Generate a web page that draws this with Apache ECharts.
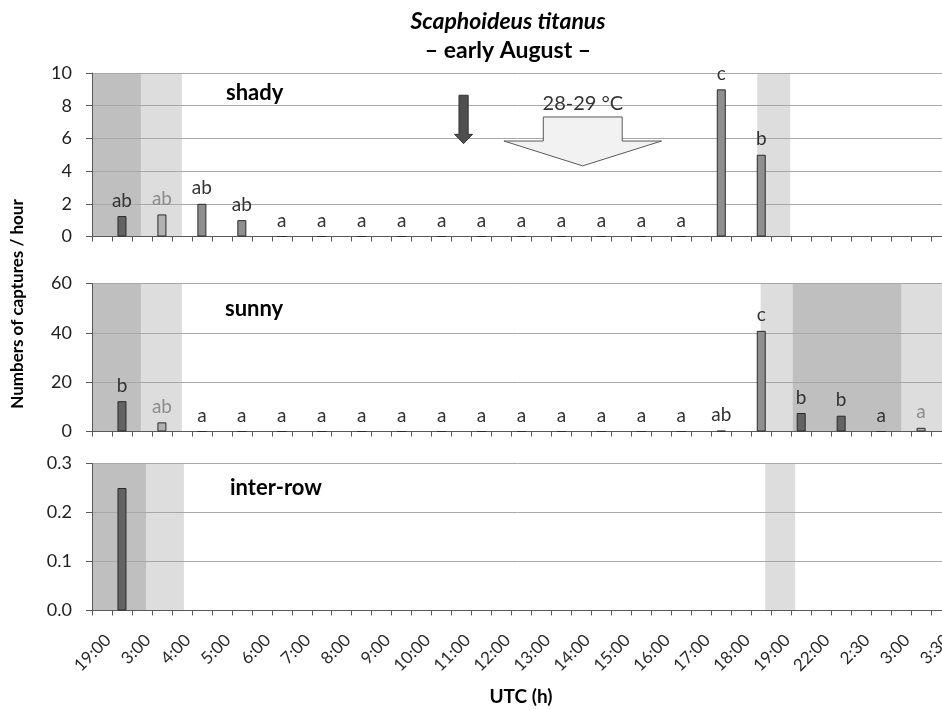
<!DOCTYPE html>
<html>
<head>
<meta charset="utf-8">
<script src="https://cdn.jsdelivr.net/npm/echarts@6/dist/echarts.min.js"></script>
<style>html,body{margin:0;padding:0;background:#fff}#c{width:942px;height:710px}</style>
</head>
<body>
<div id="c"></div>
<script>
// ---- data ----
const timeLabels = ['19:00','3:00','4:00','5:00','6:00','7:00','8:00','9:00','10:00','11:00','12:00',
  '13:00','14:00','15:00','16:00','17:00','18:00','19:00','22:00','2:30','3:00','3:30'];

// one value per interval (the interval following each time label)
const shadyValues  = [1.25, 1.35, 2.0, 1.0, 0, 0, 0, 0, 0, 0, 0, 0, 0, 0, 0, 9.0, 5.0, null, null, null, null, null];
const shadyLetters = ['ab','ab','ab','ab','a','a','a','a','a','a','a','a','a','a','a','c','b','','','','',''];
const shadyTones   = ['d','l','m','m','m','m','m','m','m','m','m','m','m','m','m','m','m','m','m','m','m','m'];

const sunnyValues  = [12.3, 3.7, 0, 0, 0, 0, 0, 0, 0, 0, 0, 0, 0, 0, 0, 0.3, 40.8, 7.5, 6.4, 0, 1.5, null];
const sunnyLetters = ['b','ab','a','a','a','a','a','a','a','a','a','a','a','a','a','ab','c','b','b','a','a',''];
const sunnyTones   = ['d','l','m','m','m','m','m','m','m','m','m','m','m','m','m','m','m','d','d','m','l','m'];

const interValues  = [0.25, null, null, null, null, null, null, null, null, null, null, null, null, null, null, null, null, null, null, null, null, null];
const interLetters = ['','','','','','','','','','','','','','','','','','','','','',''];
const interTones   = ['d','m','m','m','m','m','m','m','m','m','m','m','m','m','m','m','m','m','m','m','m','m'];

// night / twilight periods, in half-interval slot units (0..44)
const shadyBands = [[0, 2.45, 'night'], [2.45, 4.5, 'twilight'], [33.3, 34.95, 'twilight']];
const sunnyBands = [[0, 2.45, 'night'], [2.45, 4.5, 'twilight'], [33.47, 35.07, 'twilight'], [35.07, 40.53, 'night'], [40.53, 44, 'twilight']];
const interBands = [[0, 2.73, 'night'], [2.73, 4.6, 'twilight'], [33.7, 35.2, 'twilight']];

// ---- styles ----
const FONT = 'Lato, "Open Sans", sans-serif';
const toneFill = {d: '#636363', m: '#8f8f8f', l: '#b1b1b1'};
const toneLabel = {d: '#333333', m: '#333333', l: '#8c8c8c'};
const bandFill = {night: '#bfbfbf', twilight: '#dddddd'};
const SLOTS = timeLabels.length * 2;
const slots = timeLabels.flatMap(t => [t, '']);

function barData(values, tones) {
  const out = [];
  values.forEach((v, k) => {
    out.push('-');
    if (v === null) { out.push('-'); return; }
    out.push({value: v, itemStyle: {color: toneFill[tones[k]]}, label: {color: toneLabel[tones[k]]}});
  });
  return out;
}

function catAxis(i, showLabels) {
  return {
    type: 'category', gridIndex: i, data: slots, boundaryGap: true,
    axisLine: {show: true, onZero: false, lineStyle: {color: '#595959', width: 1}},
    axisTick: {show: true, interval: 0, length: 5, lineStyle: {color: '#595959'}},
    axisLabel: {
      show: showLabels, interval: 0, rotate: 45, margin: 21,
      fontSize: 17, fontFamily: FONT, color: '#2a2a2a',
      align: 'right', verticalAlign: 'top',
      formatter: (v, idx) => (idx % 2 === 0 ? timeLabels[idx / 2] : '')
    },
    splitLine: {show: false}
  };
}
function slotAxis(i) {
  return {type: 'value', gridIndex: i, min: 0, max: SLOTS, show: false};
}
function valAxis(i, max, interval, digits) {
  return {
    type: 'value', gridIndex: i, min: 0, max: max, interval: interval,
    axisLine: {show: true, lineStyle: {color: '#595959'}},
    axisTick: {show: true, length: 6, lineStyle: {color: '#595959'}},
    axisLabel: {margin: 20, fontSize: 18, fontFamily: FONT, color: '#222',
      formatter: v => v.toFixed(digits)},
    splitLine: {show: true, lineStyle: {color: '#a8a8a8', width: 1}}
  };
}
function barSeries(i, values, letters, tones) {
  return {
    type: 'bar', xAxisIndex: i, yAxisIndex: i, barWidth: 9, z: 3,
    data: barData(values, tones),
    itemStyle: {borderColor: '#2b2b2b', borderWidth: 1},
    label: {
      show: true, position: 'top', distance: 6,
      fontSize: 19, fontFamily: FONT,
      formatter: p => letters[(p.dataIndex - 1) / 2] || ''
    },
    emphasis: {disabled: true}
  };
}
function bandSeries(i, bands) {
  return {
    type: 'custom', xAxisIndex: 3 + i, yAxisIndex: i, z: -1, silent: true,
    encode: {x: [0, 1]},
    data: bands.map(b => [b[0], b[1]]),
    renderItem: (params, api) => {
      const cs = params.coordSys;
      const x0 = api.coord([api.value(0), 0])[0];
      const x1 = api.coord([api.value(1), 0])[0];
      return {type: 'rect', shape: {x: x0, y: cs.y, width: x1 - x0, height: cs.height},
        style: {fill: bandFill[bands[params.dataIndex][2]]}};
    }
  };
}

// annotation shapes in the shady panel (slot units / y units)
const smallArrow = [[18.37, 8.64], [18.83, 8.64], [18.83, 6.25], [19.05, 6.25], [18.6, 5.68], [18.15, 6.25], [18.37, 6.25]];
const bigArrow = [[22.59, 7.31], [26.54, 7.31], [26.54, 5.84], [28.51, 5.84], [24.56, 4.32], [20.62, 5.84], [22.59, 5.84]];
const tempText = {x: 24.57, y: 8.15, text: '28-29 °C'};

const annotationSeries = {
  type: 'custom', xAxisIndex: 3, yAxisIndex: 0, z: 5, silent: true,
  encode: {x: 0, y: 1},
  data: [[0, 0]],
  renderItem: (params, api) => {
    const pts = a => a.map(p => api.coord(p));
    const tp = api.coord([tempText.x, tempText.y]);
    return {type: 'group', children: [
      {type: 'polygon', shape: {points: pts(smallArrow)}, style: {fill: '#4f4f4f', stroke: '#333', lineWidth: 1}},
      {type: 'polygon', shape: {points: pts(bigArrow)}, style: {fill: '#f2f2f2', stroke: '#595959', lineWidth: 1}},
      {type: 'text', x: tp[0], y: tp[1], style: {text: tempText.text, font: '20px ' + FONT, fill: '#333', align: 'center', verticalAlign: 'middle'}}
    ]};
  }
};

const grids = [
  {left: 92, width: 879, top: 73, height: 163.5, outerBoundsMode: 'none', containLabel: false},
  {left: 92, width: 879, top: 283.5, height: 148, outerBoundsMode: 'none', containLabel: false},
  {left: 92, width: 879, top: 463.5, height: 147, outerBoundsMode: 'none', containLabel: false}
];

const option = {
  animation: false,
  backgroundColor: '#ffffff',
  textStyle: {fontFamily: FONT},
  grid: grids,
  xAxis: [catAxis(0, false), catAxis(1, false), catAxis(2, true), slotAxis(0), slotAxis(1), slotAxis(2)],
  yAxis: [valAxis(0, 10, 2, 0), valAxis(1, 60, 20, 0), valAxis(2, 0.3, 0.1, 1)],
  series: [
    bandSeries(0, shadyBands), bandSeries(1, sunnyBands), bandSeries(2, interBands),
    barSeries(0, shadyValues, shadyLetters, shadyTones),
    barSeries(1, sunnyValues, sunnyLetters, sunnyTones),
    barSeries(2, interValues, interLetters, interTones),
    annotationSeries
  ],
  graphic: [
    {type: 'text', x: 508, y: 22, style: {text: 'Scaphoideus titanus', font: 'italic bold 23px ' + FONT, fill: '#000', align: 'center', verticalAlign: 'middle'}},
    {type: 'text', x: 508, y: 51, style: {text: '– early August –', font: 'bold 23px ' + FONT, fill: '#000', align: 'center', verticalAlign: 'middle'}},
    {type: 'text', x: 18, y: 304, rotation: Math.PI / 2, style: {text: 'Numbers of captures / hour', font: 'bold 17px ' + FONT, fill: '#000', align: 'center', verticalAlign: 'middle'}},
    {type: 'text', x: 521, y: 697, style: {text: 'UTC (h)', font: 'bold 19px ' + FONT, fill: '#000', align: 'center', verticalAlign: 'middle'}},
    {type: 'text', x: 226, y: 93, style: {text: 'shady', font: 'bold 22px ' + FONT, fill: '#000', align: 'left', verticalAlign: 'middle'}},
    {type: 'text', x: 225, y: 309, style: {text: 'sunny', font: 'bold 22px ' + FONT, fill: '#000', align: 'left', verticalAlign: 'middle'}},
    {type: 'text', x: 230, y: 488, style: {text: 'inter-row', font: 'bold 22px ' + FONT, fill: '#000', align: 'left', verticalAlign: 'middle'}}
  ]
};

const chart = echarts.init(document.getElementById('c'), null, {renderer: 'canvas'});
chart.setOption(option);
</script>
</body>
</html>
